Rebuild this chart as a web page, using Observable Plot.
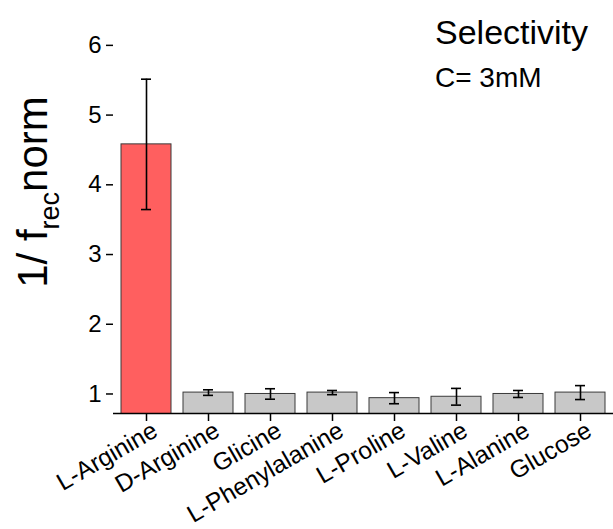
<!DOCTYPE html>
<html>
<head>
<meta charset="utf-8">
<script src="https://cdn.jsdelivr.net/npm/d3@7"></script>
<script src="https://cdn.jsdelivr.net/npm/@observablehq/plot@0.6"></script>
<style>
  html, body { margin: 0; padding: 0; background: #fff; }
  #chart { width: 613px; height: 529px; }
</style>
</head>
<body>
<div id="chart"></div>
<script>
const categories = ["L-Arginine", "D-Arginine", "Glicine", "L-Phenylalanine", "L-Proline", "L-Valine", "L-Alanine", "Glucose"];
const values = [4.58, 1.02, 1.00, 1.02, 0.94, 0.96, 1.00, 1.02];
const errors = [0.935, 0.04, 0.075, 0.03, 0.08, 0.12, 0.05, 0.10];
const fills = ["#ff5f5f", "#c8c8c8", "#c8c8c8", "#c8c8c8", "#c8c8c8", "#c8c8c8", "#c8c8c8", "#c8c8c8"];
const yTicks = [1, 2, 3, 4, 5, 6];
const titleText = "Selectivity";
const subtitleText = "C= 3mM";

const data = categories.map((c, i) => ({cat: c, v: values[i], e: errors[i], fill: fills[i]}));

const font = "'Liberation Sans', Arial, sans-serif";

const plot = Plot.plot({
  width: 613,
  height: 529,
  marginLeft: 113,
  marginRight: 0,
  marginTop: 10,
  marginBottom: 116,
  style: {fontFamily: font, fontSize: "23px", background: "white", overflow: "visible", color: "black"},
  x: {domain: categories, paddingInner: 0.2, paddingOuter: 0.1, label: null},
  y: {domain: [0.72, 6.5], label: null},
  marks: [
    Plot.barY(data, {x: "cat", y1: 0, y2: "v", fill: "fill", stroke: "#3a3a3a", strokeWidth: 1, clip: true}),
    Plot.ruleX(data, {x: "cat", y1: d => d.v - d.e, y2: d => d.v + d.e, stroke: "black", strokeWidth: 1.6}),
    Plot.tickY(data, {x: "cat", y: d => d.v + d.e, stroke: "black", strokeWidth: 1.6, insetLeft: 20, insetRight: 20}),
    Plot.tickY(data, {x: "cat", y: d => d.v - d.e, stroke: "black", strokeWidth: 1.6, insetLeft: 20, insetRight: 20}),
    Plot.axisY({ticks: yTicks, tickFormat: d3.format("d"), tickSize: 7, tickPadding: 5, stroke: "black", strokeWidth: 1.5, strokeOpacity: 1, label: null}),
    Plot.ruleX([0], {frameAnchor: "left", stroke: "black", strokeWidth: 1.6}),
    Plot.ruleY([0.72], {stroke: "black", strokeWidth: 1.6}),
    Plot.axisX({tickSize: 8, tickPadding: 4, tickRotate: -30, stroke: "black", strokeWidth: 1.5, strokeOpacity: 1, label: null})
  ]
});

document.getElementById("chart").appendChild(plot);

const svg = d3.select(plot);
svg.selectAll("g[aria-label='y-axis tick label']").attr("font-size", 24);
svg.selectAll("g[aria-label='x-axis tick label']")
  .attr("font-size", 24.5)
  .attr("transform", function() {
    const t = this.getAttribute("transform") || "";
    return "translate(9,3) " + t;
  });

// Title & subtitle
svg.append("text").attr("x", 435).attr("y", 44).attr("text-anchor", "start").attr("font-size", 34).attr("fill", "black").attr("font-family", font).text(titleText);
svg.append("text").attr("x", 435).attr("y", 87).attr("text-anchor", "start").attr("font-size", 28).attr("fill", "black").attr("font-family", font).text(subtitleText);

// Y axis label with subscript
const yl = svg.append("text")
  .attr("transform", "translate(47,192) rotate(-90)")
  .attr("text-anchor", "middle")
  .attr("font-size", 42)
  .attr("fill", "black")
  .attr("font-family", font);
yl.append("tspan").text("1/ f");
yl.append("tspan").attr("font-size", 27).attr("dy", 12).text("rec");
yl.append("tspan").attr("dy", -12).text("norm");
</script>
</body>
</html>
